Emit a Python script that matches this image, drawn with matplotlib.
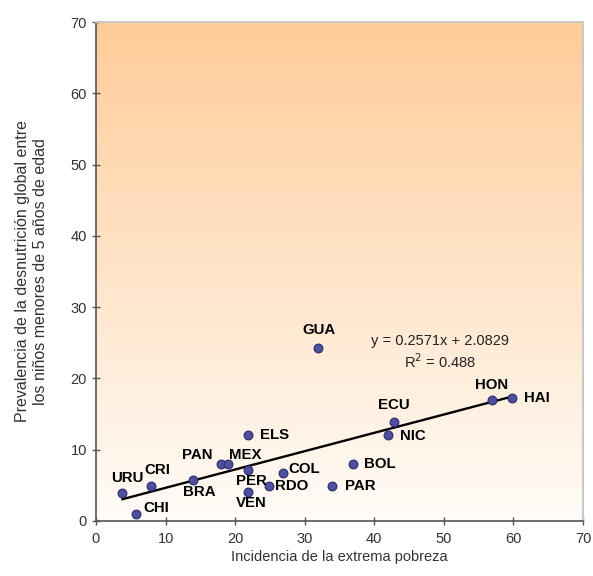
import matplotlib
matplotlib.use('Agg')
import matplotlib.pyplot as plt
import numpy as np
from matplotlib.colors import LinearSegmentedColormap

plt.rcParams['font.family'] = ['Liberation Sans', 'DejaVu Sans']

paises = ['URU', 'CRI', 'CHI', 'BRA', 'PAN', 'MEX', 'ELS', 'PER', 'VEN',
          'RDO', 'COL', 'PAR', 'BOL', 'GUA', 'ECU', 'NIC', 'HON', 'HAI']
pobreza = [3.8, 7.9, 5.8, 13.9, 17.9, 19.0, 21.9, 21.9, 21.9,
           24.9, 26.9, 33.9, 36.9, 31.9, 42.8, 42.0, 56.9, 59.8]
desnutricion = [3.9, 4.9, 1.0, 5.8, 8.0, 8.0, 12.1, 7.2, 4.1,
                4.9, 6.7, 4.9, 8.0, 24.3, 13.9, 12.1, 17.0, 17.3]
# label offsets in pixels (dx, dy)
offsets = [(5, 15), (6, 16), (20, 6), (7, -12), (-23, 9), (17, 9), (26, 0),
           (3, -11), (3, -11), (22, 0), (21, 4), (28, 0), (27, 0), (1, 18),
           (0, 17), (25, -1), (0, 15), (25, 0)]

pendiente = 0.2571
intercepto = 2.0829
r2 = 0.488

fig = plt.figure(figsize=(5.93, 5.76), dpi=100)
ax = fig.add_axes([96 / 593, 55 / 576, 487 / 593, 499 / 576])

# gradient background
cmap = LinearSegmentedColormap.from_list('bg', ['#FFFCF8', '#FFCC99'])
grad = np.linspace(0, 1, 256).reshape(-1, 1)
ax.imshow(grad, extent=[0, 70, 0, 70], origin='lower', aspect='auto',
          cmap=cmap, zorder=0)

# trend line
xs = np.array([min(pobreza), max(pobreza)])
ax.plot(xs, pendiente * xs + intercepto, color='black', lw=1.7, zorder=2)

ax.scatter(pobreza, desnutricion, s=40, color='#4F4F9E', edgecolor='#2A2A70',
           linewidth=0.8, zorder=3)

for name, x, y, (dx, dy) in zip(paises, pobreza, desnutricion, offsets):
    ax.annotate(name, (x, y), xytext=(dx, dy), textcoords='offset pixels',
                ha='center', va='center', fontsize=10.8, fontweight='bold',
                color='black', zorder=4)

ax.text(49.4, 25.2, f'y = {pendiente}x + {intercepto}', ha='center', va='center',
        fontsize=10.5, color='#222222')
ax.text(49.4, 22.3, f'R$^2$ = {r2}', ha='center', va='center',
        fontsize=10.5, color='#222222')

ax.set_xlim(0, 70)
ax.set_ylim(0, 70)
ax.set_xticks(range(0, 71, 10))
ax.set_yticks(range(0, 71, 10))
ax.tick_params(direction='inout', length=6, width=1, color='#555555',
               labelsize=10.5, labelcolor='#333333')
ax.tick_params(axis='x', pad=5)

for s in ['left', 'bottom']:
    ax.spines[s].set_color('#555555')
    ax.spines[s].set_linewidth(1.2)
for s in ['top', 'right']:
    ax.spines[s].set_color('#C8C8C8')
    ax.spines[s].set_linewidth(1.5)

ax.set_xlabel('Incidencia de la extrema pobreza', fontsize=10.5, color='#333333',
              labelpad=3)
ax.set_ylabel('Prevalencia de la desnutrición global entre\n'
              'los niños menores de 5 años de edad', fontsize=11.5,
              color='#333333', labelpad=16, linespacing=1.25)

fig.savefig('out.png', dpi=100)
